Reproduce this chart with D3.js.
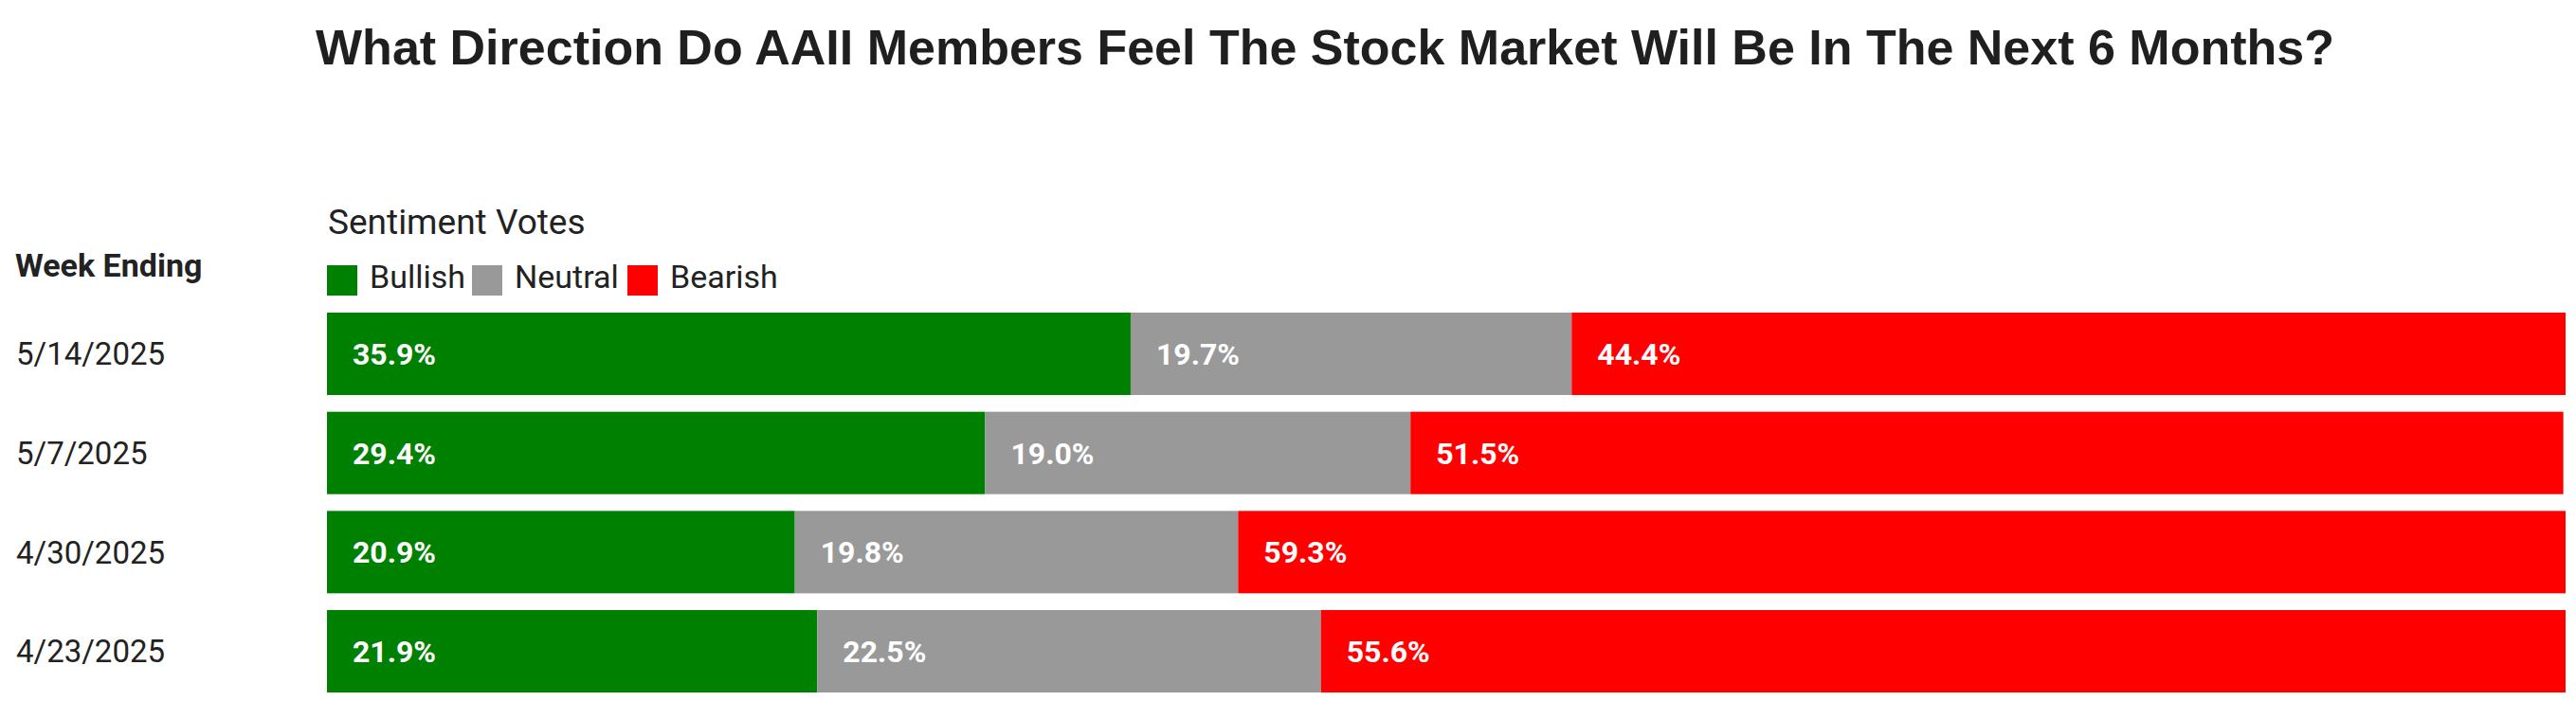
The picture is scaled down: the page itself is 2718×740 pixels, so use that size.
<!DOCTYPE html>
<html>
<head>
<meta charset="utf-8">
<script src="https://cdn.jsdelivr.net/npm/d3@7"></script>
<style>
  html, body { margin: 0; padding: 0; background: #ffffff; }
  svg { display: block; }
</style>
</head>
<body>
<svg id="chart" width="2718" height="740"></svg>
<script>
const title = "What Direction Do AAII Members Feel The Stock Market Will Be In The Next 6 Months?";
const weeks = ["5/14/2025", "5/7/2025", "4/30/2025", "4/23/2025"];
const seriesNames = ["Bullish", "Neutral", "Bearish"];
const bullish = [35.9, 29.4, 20.9, 21.9];
const neutral = [19.7, 19.0, 19.8, 22.5];
const bearish = [44.4, 51.5, 59.3, 55.6];
const seriesColors = ["#008000", "#999999", "#ff0000"];

const rows = weeks.map((w, i) => ({ week: w, Bullish: bullish[i], Neutral: neutral[i], Bearish: bearish[i] }));

const svg = d3.select("#chart");
const left = 345, right = 2707;

svg.append("text")
  .attr("x", 1398).attr("y", 68)
  .attr("text-anchor", "middle")
  .attr("font-family", "'Liberation Sans', Arial, sans-serif")
  .attr("font-weight", "bold")
  .attr("font-size", 52)
  .attr("fill", "#1f1f1f")
  .text(title);

const x = d3.scaleLinear().domain([0, 100]).range([left, right]);
const y = d3.scaleBand().domain(weeks).range([330, 731]).paddingInner(0.169).paddingOuter(0);

const color = d3.scaleOrdinal().domain(seriesNames).range(seriesColors);
const stacked = d3.stack().keys(seriesNames)(rows);

const g = svg.append("g");
const layers = g.selectAll("g.layer").data(stacked).join("g")
  .attr("class", "layer")
  .attr("fill", d => color(d.key));

layers.selectAll("rect").data(d => d.map(p => ({ p, key: d.key }))).join("rect")
  .attr("x", d => x(d.p[0]))
  .attr("y", d => y(d.p.data.week))
  .attr("width", d => x(d.p[1]) - x(d.p[0]))
  .attr("height", y.bandwidth());

layers.selectAll("text").data(d => d.map(p => ({ p, key: d.key }))).join("text")
  .attr("x", d => x(d.p[0]) + 27)
  .attr("y", d => y(d.p.data.week) + y.bandwidth() / 2)
  .attr("dy", "0.36em")
  .attr("fill", "#ffffff")
  .attr("font-family", "Roboto, sans-serif")
  .attr("font-weight", "bold")
  .attr("font-size", 32)
  .text(d => d3.format(".1f")(d.p[1] - d.p[0]) + "%");

// Row (category) labels
const yAxis = d3.axisLeft(y).tickSize(0).tickPadding(0);
const ya = svg.append("g").attr("transform", "translate(17,0)").call(yAxis);
ya.select(".domain").remove();
ya.selectAll("text")
  .attr("text-anchor", "start")
  .attr("x", 0)
  .attr("dy", "0.36em")
  .attr("font-family", "Roboto, sans-serif")
  .attr("font-size", 33)
  .attr("fill", "#222222");

svg.append("text")
  .attr("x", 16).attr("y", 292)
  .attr("font-family", "Roboto, sans-serif")
  .attr("font-weight", "bold")
  .attr("font-size", 34)
  .attr("fill", "#222222")
  .text("Week Ending");

svg.append("text")
  .attr("x", 346).attr("y", 247)
  .attr("font-family", "Roboto, sans-serif")
  .attr("font-size", 37)
  .attr("fill", "#222222")
  .text("Sentiment Votes");

// Legend
const legendX = [345, 498, 662];
const lg = svg.append("g");
const items = lg.selectAll("g").data(seriesNames).join("g")
  .attr("transform", (d, i) => `translate(${legendX[i]},280)`);
items.append("rect").attr("width", 32).attr("height", 32).attr("fill", d => color(d));
items.append("text")
  .attr("x", 45).attr("y", 24)
  .attr("font-family", "Roboto, sans-serif")
  .attr("font-size", 34)
  .attr("fill", "#222222")
  .text(d => d);
</script>
</body>
</html>
